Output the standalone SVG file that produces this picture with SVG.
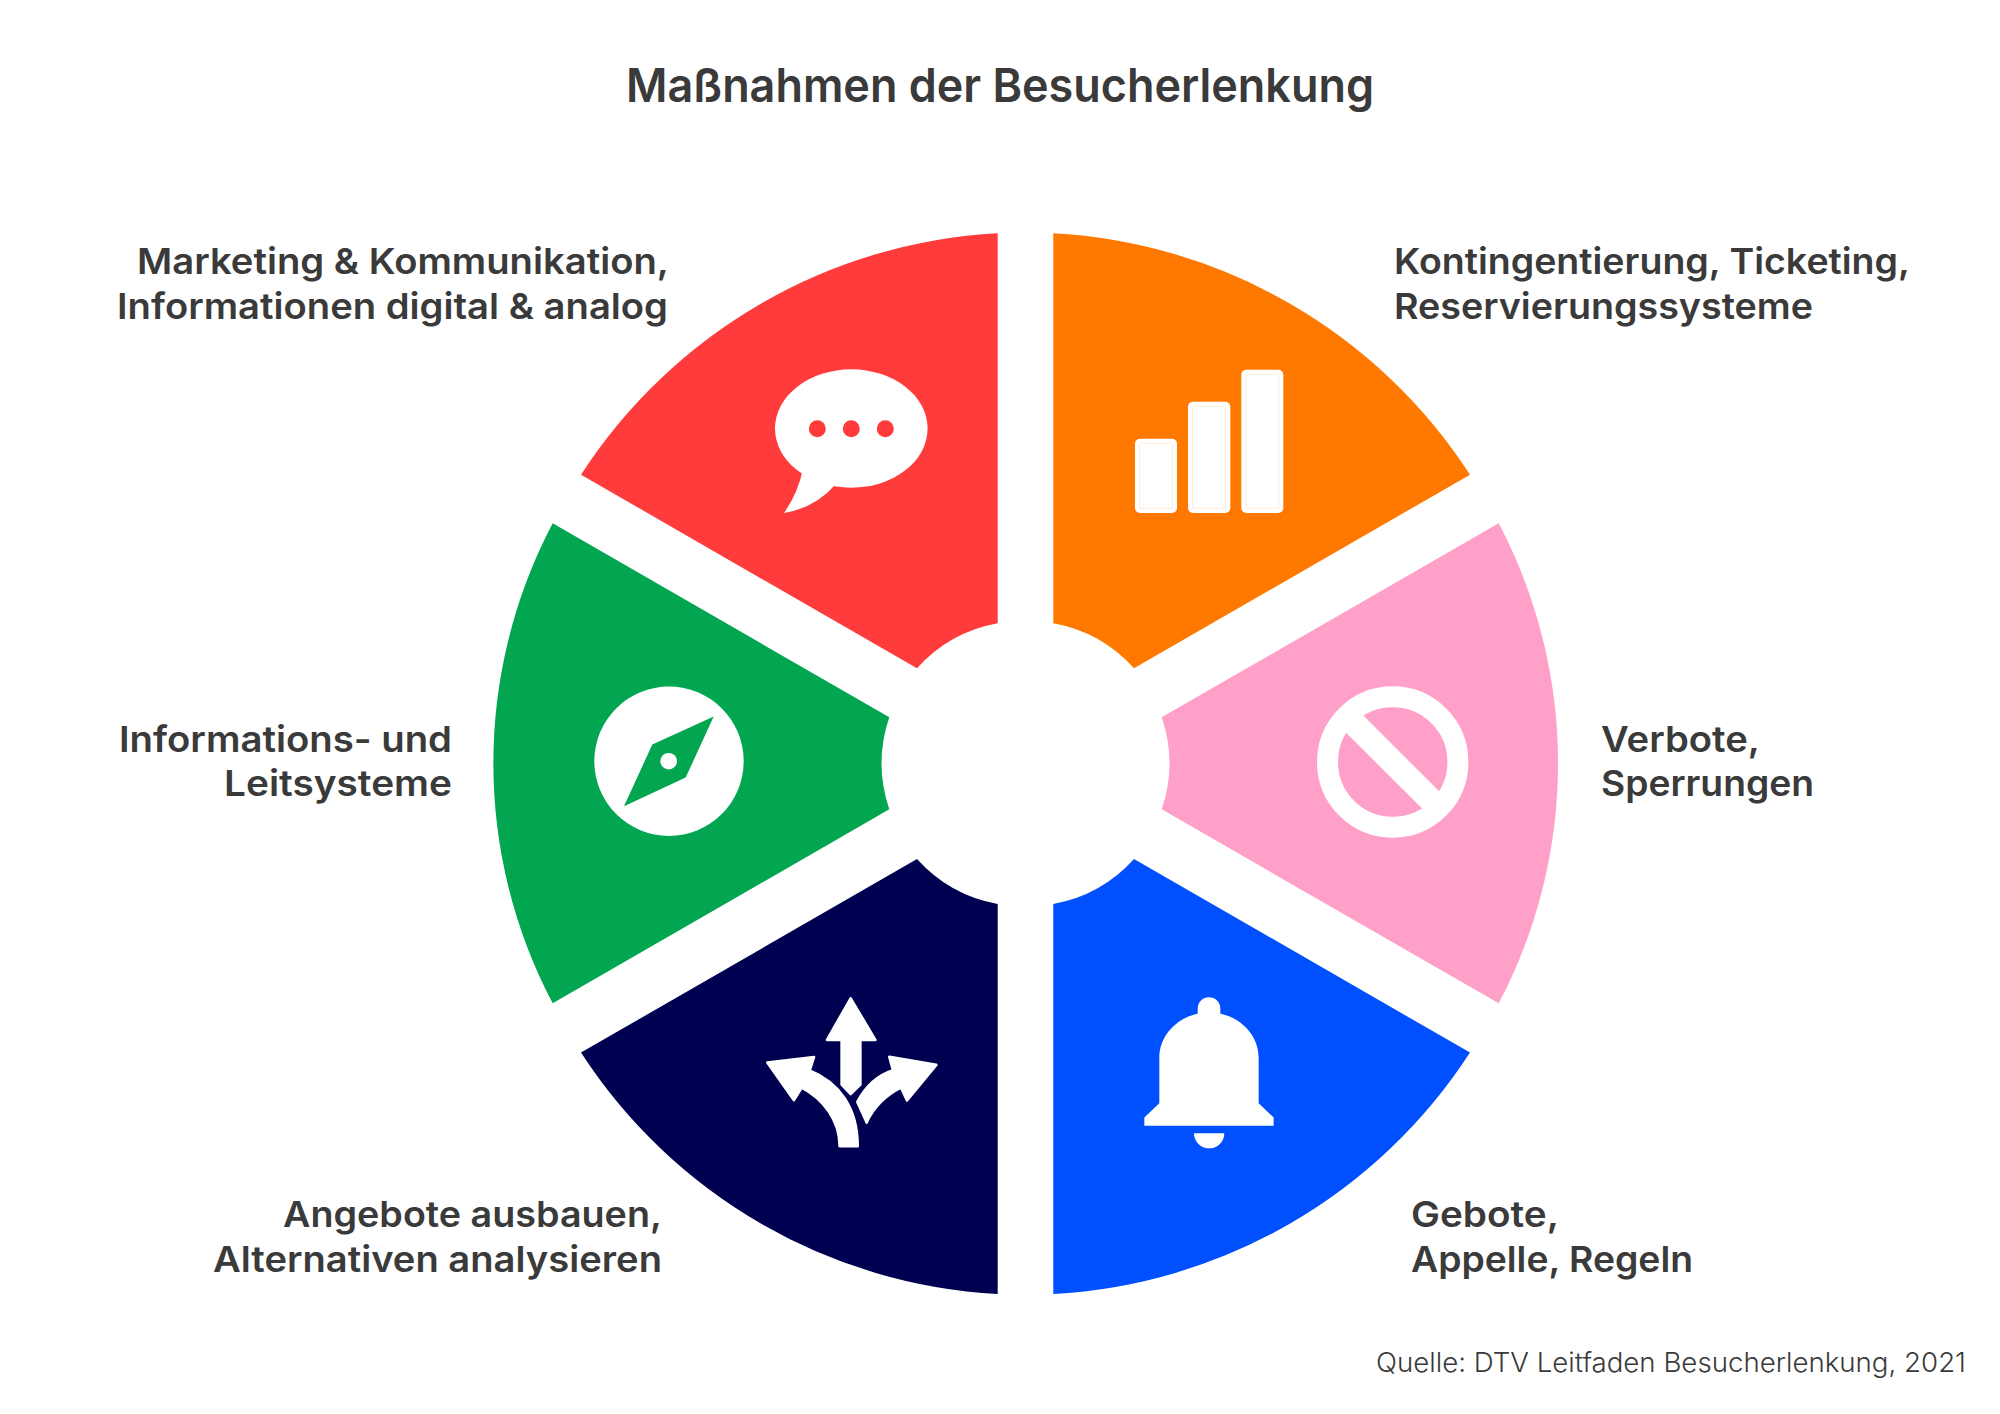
<svg xmlns="http://www.w3.org/2000/svg" width="2000" height="1414" viewBox="0 0 2000 1414">
<style>
text{font-family:"Inter","Liberation Sans",sans-serif;fill:#3a3a3a}
.t{font-size:47px;font-weight:600}
.l{font-size:35.5px;font-weight:600}
.s{font-size:27.5px;font-weight:300}
.w{fill:#fff}
</style>
<rect width="2000" height="1414" fill="#fff"/>
<text id="title" class="t" x="626" y="102" textLength="748" lengthAdjust="spacingAndGlyphs">Maßnahmen der Besucherlenkung</text>
<g id="node-red">
<path fill="#ff3b3c" d="M997.7,233.3A530.7,530.7 0 0 0 581,474.7L917,668.3A143,143 0 0 1 997.7,623.3Z"/>
<ellipse class="w" cx="851.3" cy="428.5" rx="76.3" ry="59.2"/>
<path class="w" d="M802.7,470Q798,493 784,513Q815,508 836,484Z"/>
<g fill="#ff3b3c"><circle cx="817.3" cy="428.7" r="8.5"/><circle cx="851.3" cy="428.7" r="8.5"/><circle cx="885.3" cy="428.7" r="8.5"/></g>
<text class="l" x="137" y="274" textLength="532" lengthAdjust="spacingAndGlyphs">Marketing &amp; Kommunikation,</text>
<text class="l" x="117" y="319" textLength="551" lengthAdjust="spacingAndGlyphs">Informationen digital &amp; analog</text>
</g>
<g id="node-orange">
<path fill="#ff7900" d="M1053.3,233.3A530.7,530.7 0 0 1 1470,474.7L1134,668.3A143,143 0 0 0 1053.3,623.3Z"/>
<g class="w">
<rect x="1135" y="438.7" width="42" height="74.3" rx="5"/>
<rect x="1188" y="401.7" width="42.3" height="111.3" rx="5"/>
<rect x="1241.3" y="369.7" width="42" height="143.3" rx="5"/>
</g>
<g fill="none" stroke="#ffe6d2" stroke-width=".8">
<rect x="1139.5" y="443.3" width="33" height="65" rx="1"/>
<rect x="1192.5" y="406.3" width="33" height="102" rx="1"/>
<rect x="1246" y="374.3" width="33" height="134" rx="1"/>
</g>
<text class="l" x="1394" y="274" textLength="516" lengthAdjust="spacingAndGlyphs">Kontingentierung, Ticketing,</text>
<text class="l" x="1394" y="319" textLength="419" lengthAdjust="spacingAndGlyphs">Reservierungssysteme</text>
</g>
<g id="node-pink">
<path fill="#ffa0c8" d="M1161.7,717.3L1498.7,523.3A515,515 0 0 1 1498.7,1003.3L1161.7,809.3A143,143 0 0 0 1161.7,717.3Z"/>
<circle cx="1392.7" cy="762" r="65.2" fill="none" stroke="#fff" stroke-width="21"/>
<line x1="1347" y1="716.3" x2="1438.4" y2="807.7" stroke="#fff" stroke-width="24.3"/>
<text class="l" x="1601" y="752" textLength="159" lengthAdjust="spacingAndGlyphs">Verbote,</text>
<text class="l" x="1601" y="796" textLength="213" lengthAdjust="spacingAndGlyphs">Sperrungen</text>
</g>
<g id="node-blue">
<path fill="#0050ff" d="M1053.3,1294A530.7,530.7 0 0 0 1470,1052.6L1134,859A143,143 0 0 1 1053.3,904Z"/>
<g transform="translate(1120 970.5) scale(.33333)">
<path class="w" d="M233,130V114A34,34 0 0 1 301,114V130C365,143 416,195 416,262V398L461,441V466H73V441L118,398V262C118,195 170,143 233,130Z"/>
<path class="w" d="M222,488H313A45.5,45.5 0 0 1 222,488Z"/>
</g>
<text class="l" x="1411" y="1227" textLength="148" lengthAdjust="spacingAndGlyphs">Gebote,</text>
<text class="l" x="1411" y="1272" textLength="282" lengthAdjust="spacingAndGlyphs">Appelle, Regeln</text>
</g>
<g id="node-navy">
<path fill="#000050" d="M997.7,1294A530.7,530.7 0 0 1 581,1052.6L917,859A143,143 0 0 0 997.7,904Z"/>
<g transform="translate(740 970.5) scale(.33333)" fill="#fff" stroke="#fff" stroke-width="8" stroke-linejoin="round">
<path d="M332,84L406,208H361V342L332,371L305,342V208H261Z"/>
<path d="M82,276L222,260L209,300C295,335 353,410 353,527H299C299,450 250,385 185,351L162,389Z"/>
<path d="M589,283L448,259L459,299C410,315 375,350 352,394L380,456C400,410 440,372 483,351L501,390Z"/>
</g>
<text class="l" x="283" y="1227" textLength="379" lengthAdjust="spacingAndGlyphs">Angebote ausbauen,</text>
<text class="l" x="213" y="1272" textLength="449" lengthAdjust="spacingAndGlyphs">Alternativen analysieren</text>
</g>
<g id="node-green">
<path fill="#02a650" d="M889.3,717.3L552.7,523.3A515,515 0 0 0 552.7,1003.3L889.3,809.3A143,143 0 0 1 889.3,717.3Z"/>
<circle class="w" cx="669" cy="761.2" r="74.7"/>
<path fill="#02a650" d="M713.7,716.5L652.3,744.5L624,806.2L685.7,777.5Z"/>
<circle class="w" cx="668.7" cy="761.2" r="8.3"/>
<text class="l" x="119" y="752" textLength="333" lengthAdjust="spacingAndGlyphs">Informations- und</text>
<text class="l" x="224" y="796" textLength="228" lengthAdjust="spacingAndGlyphs">Leitsysteme</text>
</g>
<text id="source" class="s" x="1376" y="1372" textLength="590" lengthAdjust="spacingAndGlyphs">Quelle: DTV Leitfaden Besucherlenkung, 2021</text>
</svg>
